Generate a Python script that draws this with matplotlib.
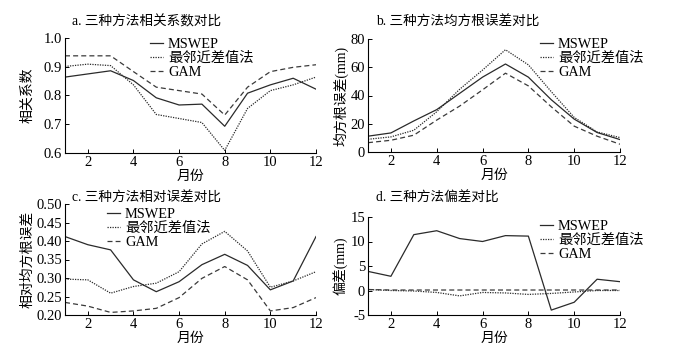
import matplotlib.pyplot as plt
import numpy as np

plt.rcParams['font.family'] = ['Liberation Serif', 'Noto Sans CJK SC']
plt.rcParams['axes.unicode_minus'] = True

months = np.arange(1, 13)
labels = ['MSWEP', '最邻近差值法', 'GAM']

# a. correlation coefficient
cc_mswep = [0.864, 0.875, 0.886, 0.852, 0.792, 0.767, 0.770, 0.693, 0.808, 0.837, 0.860, 0.822]
cc_nn = [0.901, 0.909, 0.904, 0.837, 0.734, 0.720, 0.706, 0.609, 0.755, 0.817, 0.837, 0.864]
cc_gam = [0.938, 0.938, 0.938, 0.883, 0.829, 0.817, 0.805, 0.732, 0.829, 0.883, 0.898, 0.907]

# b. RMSE (mm)
rmse_mswep = [11.2, 13.5, 22.0, 30.0, 41.5, 53.0, 62.3, 53.0, 37.0, 23.3, 13.8, 8.8]
rmse_nn = [9.0, 10.7, 15.4, 28.5, 44.4, 58.0, 72.4, 61.7, 42.7, 24.5, 14.2, 10.2]
rmse_gam = [6.6, 8.3, 11.9, 22.6, 32.5, 44.0, 55.8, 46.8, 32.0, 18.3, 11.2, 5.5]

# c. relative RMSE
rr_mswep = [0.412, 0.390, 0.376, 0.295, 0.263, 0.290, 0.336, 0.364, 0.334, 0.268, 0.292, 0.412]
rr_nn = [0.297, 0.295, 0.259, 0.277, 0.286, 0.317, 0.392, 0.426, 0.373, 0.275, 0.292, 0.317]
rr_gam = [0.234, 0.224, 0.207, 0.211, 0.218, 0.247, 0.299, 0.331, 0.295, 0.211, 0.220, 0.247]

# d. bias (mm)
bias_mswep = [3.9, 2.9, 11.4, 12.2, 10.6, 10.0, 11.2, 11.1, -4.0, -2.4, 2.3, 1.8]
bias_nn = [0.2, 0.0, -0.1, -0.4, -1.1, -0.4, -0.5, -0.8, -0.6, -0.3, 0.0, 0.0]
bias_gam = [0.2, 0.1, 0.1, 0.1, 0.1, 0.1, 0.1, 0.1, 0.1, 0.1, 0.1, 0.1]

W, H = 697, 354
fig = plt.figure(figsize=(W / 100, H / 100), dpi=100)


def px_axes(l, t, r, b):
    return fig.add_axes([l / W, 1 - b / H, (r - l) / W, (b - t) / H])


styles = [dict(color='#2a2a2a', ls='-', lw=0.9),
          dict(color='#2a2a2a', ls=(0, (1, 1)), lw=0.9),
          dict(color='#3a3a3a', ls=(0, (4, 2.5)), lw=0.9)]


def panel(box, series, ylim, yticks, yfmt, title, title_xy, ylabel, ylabel_x, leg_xy):
    ax = px_axes(*box)
    for s, lab, st in zip(series, labels, styles):
        ax.plot(months, s, label=lab, **st)
    ax.set_xlim(1, 12)
    ax.set_ylim(*ylim)
    ax.set_xticks([2, 4, 6, 8, 10, 12])
    ax.set_yticks(yticks)
    ax.set_yticklabels([yfmt.format(v) for v in yticks])
    for sp in ['top', 'right']:
        ax.spines[sp].set_visible(False)
    for sp in ['left', 'bottom']:
        ax.spines[sp].set_linewidth(0.8)
    ax.tick_params(direction='in', length=3, width=0.7, labelsize=10.5, pad=2)
    ax.set_xlabel('月份', fontsize=10, labelpad=1)
    fig.text(title_xy[0] / W, 1 - title_xy[1] / H, title, fontsize=9.8,
             ha='left', va='center')
    fig.text(ylabel_x / W, 1 - (box[1] + box[3]) / 2 / H, ylabel, fontsize=10,
             rotation=90, ha='center', va='center')
    ax.legend(loc='upper left', bbox_to_anchor=(leg_xy[0] / W, 1 - leg_xy[1] / H),
              bbox_transform=fig.transFigure, frameon=False, fontsize=10.3,
              handlelength=0.9, handletextpad=0.35, labelspacing=0.05,
              borderpad=0, borderaxespad=0)
    return ax


panel((65, 38, 316, 153), [cc_mswep, cc_nn, cc_gam], (0.6, 1.0),
      [0.6, 0.7, 0.8, 0.9, 1.0], '{:.1f}', 'a. 三种方法相关系数对比', (72, 22),
      '相关系数', 28, (150, 38))
panel((368, 39, 620, 152), [rmse_mswep, rmse_nn, rmse_gam], (0, 80),
      [0, 20, 40, 60, 80], '{:.0f}', 'b. 三种方法均方根误差对比', (376, 22),
      '均方根误差(mm)', 341, (540, 38))
panel((65, 204, 316, 315), [rr_mswep, rr_nn, rr_gam], (0.2, 0.5),
      [0.20, 0.25, 0.30, 0.35, 0.40, 0.45, 0.50], '{:.2f}', 'c. 三种方法相对误差对比',
      (72, 198), '相对均方根误差', 28, (107, 208))
panel((368, 217, 620, 315), [bias_mswep, bias_nn, bias_gam], (-5, 15),
      [-5, 0, 5, 10, 15], '{:.0f}', 'd. 三种方法偏差对比', (376, 198),
      '偏差(mm)', 341, (540, 220))

fig.savefig('out.png', dpi=100)
